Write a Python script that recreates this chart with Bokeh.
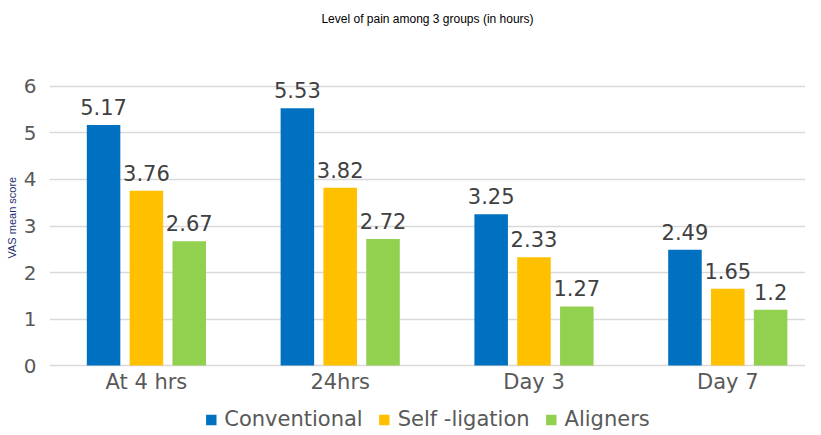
from bokeh.plotting import figure
from bokeh.models import Range1d, FixedTicker, ColumnDataSource, Legend, LegendItem, Title
from bokeh.core.properties import value
from bokeh.embed import file_html
from bokeh.resources import INLINE

categories = ["At 4 hrs", "24hrs", "Day 3", "Day 7"]
conventional = [5.17, 5.53, 3.25, 2.49]
self_ligation = [3.76, 3.82, 2.33, 1.65]
aligners = [2.67, 2.72, 1.27, 1.2]
series_names = ["Conventional", "Self -ligation", "Aligners"]
series_values = [conventional, self_ligation, aligners]
colors = ["#0070C0", "#FFC000", "#92D050"]
y_ticks = [0, 1, 2, 3, 4, 5, 6]

p = figure(width=805, height=431, output_backend="svg", toolbar_location=None,
           x_range=Range1d(-0.5, 3.401), y_range=Range1d(-1.419, 7.204),
           min_border_left=47, min_border_right=0, min_border_top=30,
           min_border_bottom=0)
p.outline_line_color = None
p.background_fill_color = "white"
p.border_fill_color = "white"

p.title.text = "Level of pain among 3 groups (in hours)"
p.title.align = "center"
p.title.text_font = "Liberation Sans"
p.title.text_font_size = "12px"
p.title.text_font_style = "normal"
p.title.text_color = "#000000"

offsets = [-0.221, 0.0, 0.221]
xs = list(range(len(categories)))
items = []
for name, vals, col, off in zip(series_names, series_values, colors, offsets):
    src = ColumnDataSource(dict(x=[i + off for i in xs], top=vals,
                                lab=[f"{v:g}" for v in vals]))
    r = p.vbar(x="x", top="top", width=0.173, source=src, fill_color=col, line_color=None)
    p.text(x="x", y="top", text="lab", source=src, text_align="center",
           text_baseline="bottom", y_offset=-10, text_font=value("DejaVu Sans"),
           text_font_size="21px", text_color="#404040")
    items.append(LegendItem(label=name, renderers=[r]))

# category labels along the baseline
cat_src = ColumnDataSource(dict(x=xs, y=[0] * len(xs), lab=categories))
p.text(x="x", y="y", text="lab", source=cat_src, text_align="center",
       text_baseline="top", y_offset=4, text_font=value("DejaVu Sans"),
       text_font_size="21px", text_color="#595959")

# axes
p.xaxis.visible = False
p.yaxis.ticker = FixedTicker(ticks=y_ticks)
p.yaxis.axis_line_color = None
p.yaxis.major_tick_line_color = None
p.yaxis.minor_tick_line_color = None
p.yaxis.major_label_text_font = "DejaVu Sans"
p.yaxis.major_label_text_font_size = "20px"
p.yaxis.major_label_text_color = "#595959"
p.yaxis.major_label_standoff = 7

ylab = Title(text="VAS mean score", align="left", offset=173, standoff=6,
             text_font="Liberation Sans", text_font_size="11px",
             text_font_style="normal", text_color="#1F2F6F")
p.add_layout(ylab, "left")

p.xgrid.grid_line_color = None
p.ygrid.ticker = FixedTicker(ticks=y_ticks)
p.ygrid.grid_line_color = "#D9D9D9"
p.ygrid.grid_line_width = 1.5

legend = Legend(items=items, orientation="horizontal", location="bottom_center",
                label_text_font="DejaVu Sans", label_text_font_size="21px",
                label_text_color="#595959", glyph_width=13, glyph_height=13,
                label_standoff=7, spacing=15, padding=0, margin=0,
                label_height=20, border_line_color=None, background_fill_alpha=0)
p.add_layout(legend, "center")

open("out.html", "w").write(file_html(p, INLINE))
